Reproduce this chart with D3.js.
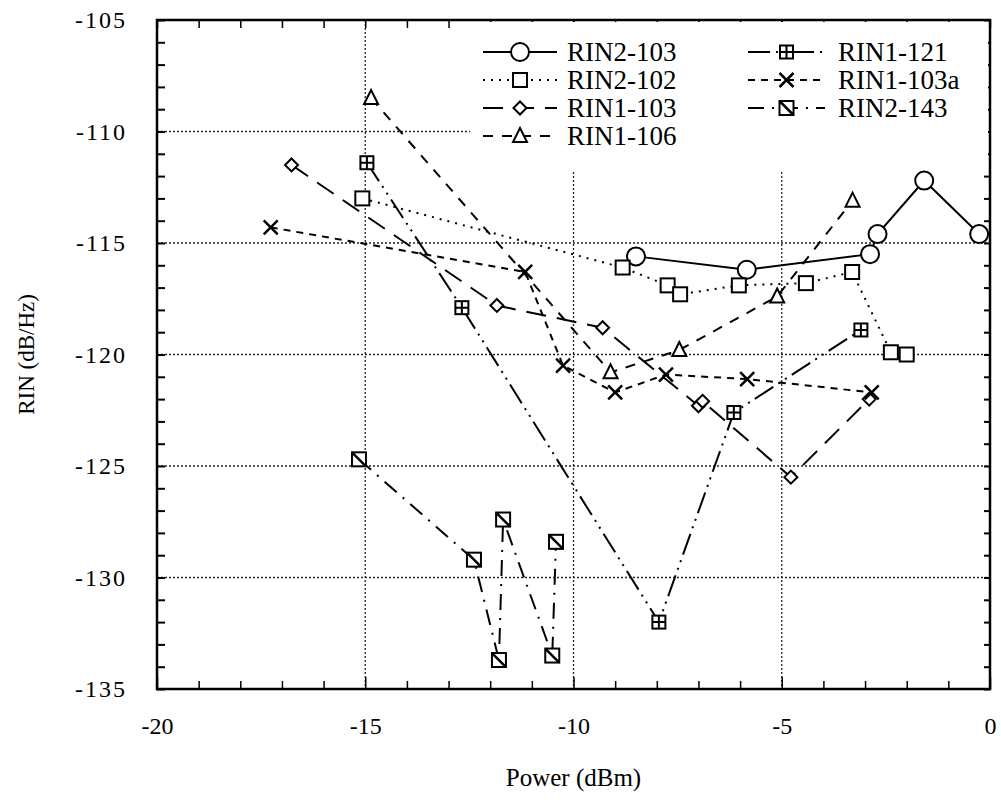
<!DOCTYPE html>
<html><head><meta charset="utf-8">
<script src="https://cdn.jsdelivr.net/npm/d3@7"></script>
</head><body style="margin:0;background:#fff"><svg id="c" width="1001" height="805" font-family="Liberation Serif" style="font-family:'Liberation Serif'"></svg>
<script>
// ---- data ----
const seriesNames = ["RIN2-103","RIN2-102","RIN1-103","RIN1-106","RIN1-121","RIN1-103a","RIN2-143"];
const rin2_103_x = [-8.5,-5.84,-2.88,-2.7,-1.58,-0.26];
const rin2_103_y = [-115.6,-116.2,-115.5,-114.6,-112.2,-114.6];
const rin2_102_x = [-15.07,-8.82,-7.74,-7.44,-6.03,-4.42,-3.31,-2.38,-2.0];
const rin2_102_y = [-113.0,-116.1,-116.9,-117.3,-116.9,-116.8,-116.3,-119.9,-120.0];
const rin1_103_x = [-16.77,-11.84,-9.3,-7.0,-6.9,-4.78,-2.9];
const rin1_103_y = [-111.5,-117.8,-118.8,-122.3,-122.1,-125.5,-122.0];
const rin1_106_x = [-14.86,-9.11,-7.46,-5.11,-3.3];
const rin1_106_y = [-108.5,-120.8,-119.8,-117.4,-113.1];
const rin1_121_x = [-14.96,-12.68,-7.95,-6.15,-3.1];
const rin1_121_y = [-111.4,-117.9,-132.0,-122.6,-118.9];
const rin1_103a_x = [-17.27,-11.16,-10.25,-9.0,-7.78,-5.83,-2.84];
const rin1_103a_y = [-114.3,-116.3,-120.5,-121.7,-120.9,-121.1,-121.7];
const rin2_143_x = [-15.15,-12.39,-11.79,-11.69,-10.51,-10.42];
const rin2_143_y = [-124.7,-129.2,-133.7,-127.4,-133.5,-128.4];
const xTicks = [-20,-15,-10,-5,0];
const yTicks = [-105,-110,-115,-120,-125,-130,-135];
const xGrid = [-15,-10,-5];
const yGrid = [-110,-115,-120,-125,-130];

// ---- layout ----
const L=157,R=990,T=20,B=689;
const svg=d3.select("#c");
const x=d3.scaleLinear().domain([-20,0]).range([L,R]);
const y=d3.scaleLinear().domain([-135,-105]).range([B,T]);
function txt(sel,size){return sel.attr("font-family","Liberation Serif").style("font-family","'Liberation Serif'").attr("font-size",size);}

const styles={
 "RIN2-103":{dash:null,m:"circle"},
 "RIN2-102":{dash:"2,6",m:"square"},
 "RIN1-103":{dash:"20,11",m:"diamond"},
 "RIN1-106":{dash:"10,9",m:"triangle"},
 "RIN1-121":{dash:"22,6,2,6,2,6",m:"sqplus"},
 "RIN1-103a":{dash:"7,6",m:"cross"},
 "RIN2-143":{dash:"16,8,2,8",m:"sqdiag"}
};
const data={
 "RIN2-103":d3.zip(rin2_103_x,rin2_103_y),
 "RIN2-102":d3.zip(rin2_102_x,rin2_102_y),
 "RIN1-103":d3.zip(rin1_103_x,rin1_103_y),
 "RIN1-106":d3.zip(rin1_106_x,rin1_106_y),
 "RIN1-121":d3.zip(rin1_121_x,rin1_121_y),
 "RIN1-103a":d3.zip(rin1_103a_x,rin1_103a_y),
 "RIN2-143":d3.zip(rin2_143_x,rin2_143_y)
};

// grid
const g=svg.append("g");
g.selectAll(".gx").data(xGrid).enter().append("line")
 .attr("x1",d=>x(d)).attr("x2",d=>x(d)).attr("y1",T).attr("y2",B)
 .attr("stroke","#222").attr("stroke-width",1.3).attr("stroke-dasharray","2,2");
g.selectAll(".gy").data(yGrid).enter().append("line")
 .attr("x1",L).attr("x2",R).attr("y1",d=>y(d)).attr("y2",d=>y(d))
 .attr("stroke","#222").attr("stroke-width",1.3).attr("stroke-dasharray","2,2");

// ticks (inward)
const minorX=d3.range(-20,1,1), minorY=d3.range(-135,-104,1);
function tickLen(v){return v%5===0?12:8;}
svg.append("g").attr("transform",`translate(0,${B})`)
 .call(d3.axisTop(x).tickValues(minorX).tickSize(8).tickFormat(""))
 .call(a=>{a.select(".domain").remove();a.selectAll("line").attr("stroke-width",1.5).attr("y2",d=>-tickLen(d));});
svg.append("g").attr("transform",`translate(0,${T})`)
 .call(d3.axisBottom(x).tickValues(minorX).tickSize(8).tickFormat(""))
 .call(a=>{a.select(".domain").remove();a.selectAll("line").attr("stroke-width",1.5);});
svg.append("g").attr("transform",`translate(${L},0)`)
 .call(d3.axisRight(y).tickValues(minorY).tickSize(8).tickFormat(""))
 .call(a=>{a.select(".domain").remove();a.selectAll("line").attr("stroke-width",2);});
svg.append("g").attr("transform",`translate(${R},0)`)
 .call(d3.axisLeft(y).tickValues(minorY).tickSize(6).tickFormat(""))
 .call(a=>{a.select(".domain").remove();a.selectAll("line").attr("stroke-width",2);});

// tick labels
svg.append("g").attr("transform",`translate(0,${B})`)
 .call(d3.axisBottom(x).tickValues(xTicks).tickSize(0).tickPadding(28).tickFormat(d=>String(d)))
 .call(a=>{a.select(".domain").remove();a.attr("font-family","Liberation Serif");txt(a.selectAll("text"),24);});
svg.append("g").attr("transform",`translate(${L},0)`)
 .call(d3.axisLeft(y).tickValues(yTicks).tickSize(0).tickPadding(30).tickFormat(d=>String(d)))
 .call(a=>{a.select(".domain").remove();a.attr("font-family","Liberation Serif");txt(a.selectAll("text"),24).attr("letter-spacing",2);});

// axis titles
txt(svg.append("text"),25).attr("x",(L+R)/2).attr("y",786).attr("text-anchor","middle").text("Power (dBm)");
txt(svg.append("text"),23).attr("transform",`translate(34,${(T+B)/2}) rotate(-90)`).attr("text-anchor","middle").text("RIN (dB/Hz)");

// legend background
svg.append("rect").attr("x",470).attr("y",T+2).attr("width",R-472).attr("height",150).attr("fill","#fff");

// markers
function drawMarker(sel,type,cx,cy){
 const s=sel.append("g").attr("transform",`translate(${cx},${cy})`).attr("fill","#fff").attr("stroke","#000").attr("stroke-width",2);
 if(type==="circle") s.append("circle").attr("r",9);
 else if(type==="square"){s.append("rect").attr("x",-7).attr("y",-7).attr("width",14).attr("height",14);}
 else if(type==="diamond") s.append("path").attr("d","M0,-6.5L6.5,0L0,6.5L-6.5,0Z");
 else if(type==="triangle") s.append("path").attr("d","M0,-8L7,6L-7,6Z");
 else if(type==="sqplus"){s.append("rect").attr("x",-6.5).attr("y",-6.5).attr("width",13).attr("height",13);
   s.append("path").attr("d","M0,-6.5V6.5M-6.5,0H6.5");}
 else if(type==="cross") s.append("path").attr("d","M-7,-7L7,7M-7,7L7,-7").attr("stroke-width",2.5);
 else if(type==="sqdiag"){s.append("rect").attr("x",-7).attr("y",-7).attr("width",14).attr("height",14);
   s.append("path").attr("d","M-7,-7L7,7").attr("stroke-width",2.5);}
}

// series
const line=d3.line().x(d=>x(d[0])).y(d=>y(d[1]));
const plot=svg.append("g");
seriesNames.forEach(n=>{
 plot.append("path").datum(data[n]).attr("d",line).attr("fill","none").attr("stroke","#000")
  .attr("stroke-width",2).attr("stroke-dasharray",styles[n].dash);
});
seriesNames.forEach(n=>{
 data[n].forEach(d=>drawMarker(plot,styles[n].m,x(d[0]),y(d[1])));
});

// legend
const legCols=[{sx:483,ex:557,tx:567},{sx:748,ex:825,tx:838}];
const legRows=[52,80,108,136];
seriesNames.forEach((n,i)=>{
 const c=legCols[i<4?0:1], r=legRows[i<4?i:i-4];
 svg.append("line").attr("x1",c.sx).attr("x2",c.ex).attr("y1",r).attr("y2",r)
  .attr("stroke","#000").attr("stroke-width",2).attr("stroke-dasharray",styles[n].dash);
 drawMarker(svg,styles[n].m,(c.sx+c.ex)/2,r);
 txt(svg.append("text"),27).attr("x",c.tx).attr("y",r).attr("dy","0.35em").text(n);
});

// frame
svg.append("rect").attr("x",L).attr("y",T).attr("width",R-L).attr("height",B-T)
 .attr("fill","none").attr("stroke","#000").attr("stroke-width",2.5);
</script></body></html>
